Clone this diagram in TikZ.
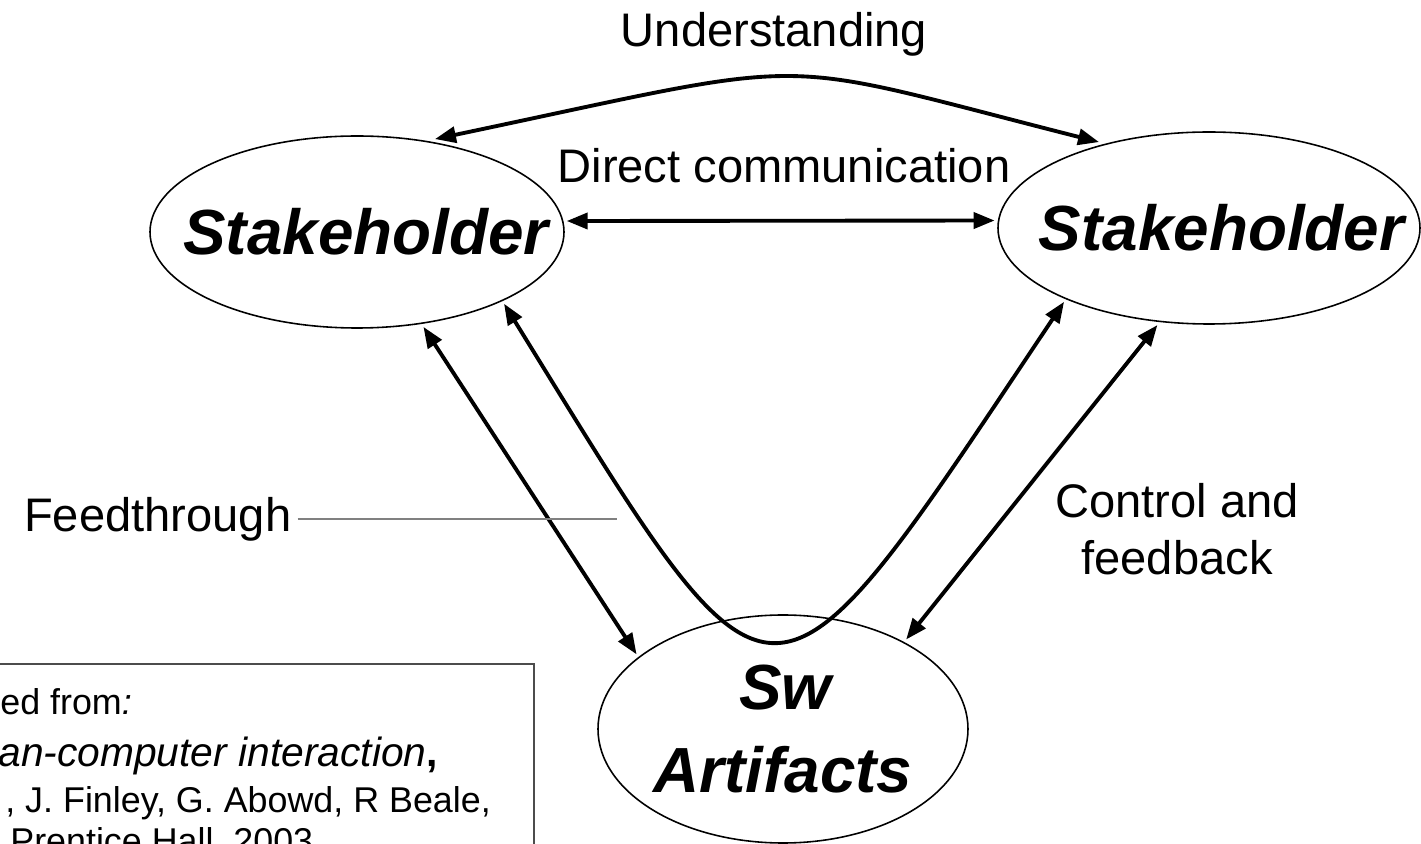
\documentclass[tikz,border=0pt]{standalone}
\usepackage{fontspec}
\setmainfont{Liberation Sans}
\usetikzlibrary{shapes.geometric,arrows.meta}
\tikzstyle{actor}=[ellipse, draw=black, line width=0.9pt, inner sep=0pt, outer sep=0.08cm, align=center, font=\fontsize{36.3}{47}\selectfont\bfseries\itshape]
\tikzstyle{link}=[{Triangle[length=0.42cm,width=0.32cm]}-{Triangle[length=0.42cm,width=0.32cm]}, line width=2.2pt]
\tikzstyle{note}=[align=center, font=\fontsize{26.8}{32.3}\selectfont]
\tikzstyle{source}=[anchor=base west, inner sep=0pt, font=\fontsize{20.4}{24}\selectfont]
% zero-width label so the ellipse keeps its own size
\newcommand{\tight}[2][0cm]{\makebox[0pt]{\hspace{#1}#2}}

\begin{document}
\begin{tikzpicture}
\useasboundingbox (0,0) rectangle (28.42,16.88);
\clip (0,0) rectangle (28.42,16.88);
% the three parties
\node[actor, minimum width=8.28cm, minimum height=3.84cm] (sl) at (7.14,12.24) {\tight[0.36cm]{Stakeholder}};
\node[actor, minimum width=8.44cm, minimum height=3.84cm] (sr) at (24.18,12.32) {\tight[0.5cm]{Stakeholder}};
\node[actor, minimum width=7.4cm, minimum height=4.56cm] (sw) at (15.66,2.30) {\tight[0.1cm]{Sw}\\\tight{Artifacts}};
% labels
\node[note, anchor=base] (und) at (15.48,15.94) {Understanding};
\node[note, anchor=base] (dc) at (15.68,13.22) {Direct communication};
\node[note, anchor=east] (ft) at (5.95,6.50) {Feedthrough};
\node[note] (cf) at (23.54,6.29) {Control and\\feedback};
\coordinate (ftend) at (12.34,6.50);
% connectors
\draw[link] (sl.50) .. controls (16.6,15.76) and (15.2,15.76) .. (sr.142);
\draw[link] (sl.3) -- (sr.178);
\draw[link] (sl.305) -- (sw.153);
\draw[link] (sw.36) -- (sr.242);
\draw[link] (sl.334) .. controls (15.6,1.86) and (15.28,1.86) .. (sr.207);
\draw[gray, line width=0.85pt] (ft.east) -- (ftend);
% source box, cut by the page edge
\draw[black!70, line width=0.9pt] (-0.5,-0.5) rectangle (10.68,3.60);
\node[source] (src1) at (0,2.58) {ed from\textit{:}};
\node[source, font=\fontsize{23.2}{28}\selectfont\itshape] (src2) at (-0.04,1.54) {an-computer interaction\textbf{\upshape ,}};
\node[source] (src3) at (0.1,0.62) {, J. Finley, G. Abowd, R Beale,};
\node[source] (src4) at (0.2,-0.2) {Prentice Hall, 2003};
\end{tikzpicture}
\end{document}
